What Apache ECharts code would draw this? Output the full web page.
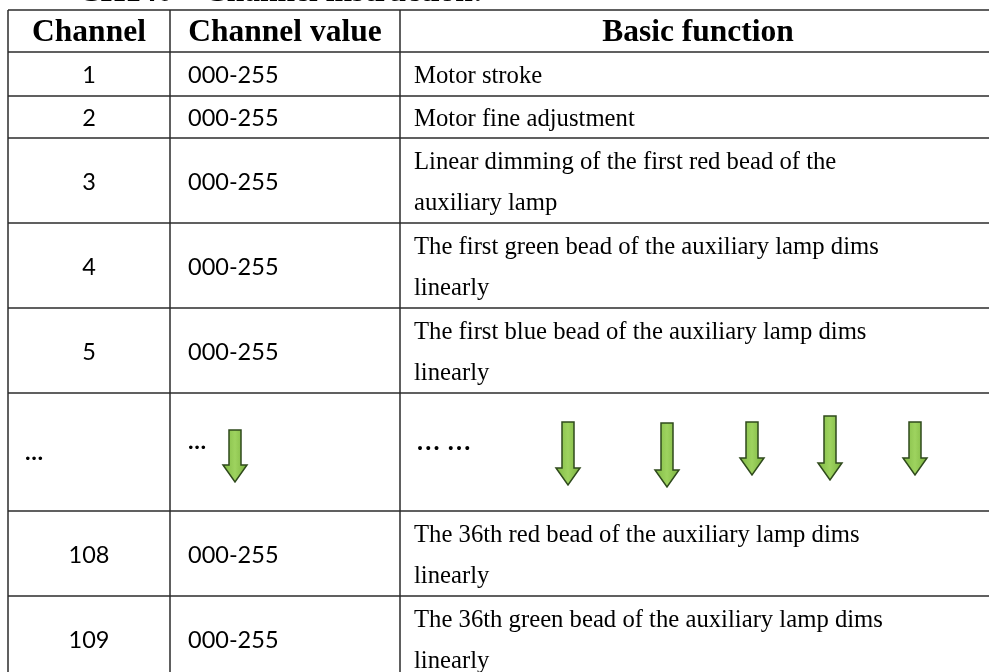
<!DOCTYPE html>
<html>
<head>
<meta charset="utf-8">
<script src="https://cdn.jsdelivr.net/npm/echarts/dist/echarts.min.js"></script>
<style>
  html, body { margin: 0; padding: 0; background: #fff; }
  #main { width: 989px; height: 672px; }
</style>
</head>
<body>
<div id="main"></div>
<script>
// table content
var title = 'CH140 – Channel instruction:';
var headers = ['Channel', 'Channel value', 'Basic function'];
var channels = ['1', '2', '3', '4', '5', '…', '108', '109'];
var channelValues = ['000-255', '000-255', '000-255', '000-255', '000-255', '…', '000-255', '000-255'];
var functions = [
  ['Motor stroke'],
  ['Motor fine adjustment'],
  ['Linear dimming of the first red bead of the', 'auxiliary lamp'],
  ['The first green bead of the auxiliary lamp dims', 'linearly'],
  ['The first blue bead of the auxiliary lamp dims', 'linearly'],
  ['… …'],
  ['The 36th red bead of the auxiliary lamp dims', 'linearly'],
  ['The 36th green bead of the auxiliary lamp dims', 'linearly']
];

// layout (pixels)
var colEdges = [8, 170, 400, 996];
var tableTop = 10;
var rowHeights = [42, 44, 42, 85, 85, 85, 118, 85, 85]; // header first
var dotsRow = 5;
// arrows in the "..." row: [centre x, top, bottom]
var arrows = [
  [235, 430, 482],
  [568, 422, 485],
  [667, 423, 487],
  [752, 422, 475],
  [830, 416, 480],
  [915, 422, 475]
];

var serif = '"Liberation Serif", "Times New Roman", serif';
var sans = 'Lato, "Open Sans", sans-serif';
var lineColor = '#2b2b2b';

var rowTops = [tableTop];
rowHeights.forEach(function (h, i) { rowTops.push(rowTops[i] + h); });

var chart = echarts.init(document.getElementById('main'));

function txt(api, x, y, s, font, align) {
  var p = api.coord([x, y]);
  return {
    type: 'text',
    x: p[0], y: p[1],
    style: { text: s, font: font, fill: '#000', align: align || 'left', verticalAlign: 'middle' }
  };
}

function line(api, x1, y1, x2, y2) {
  var a = api.coord([x1, y1]), b = api.coord([x2, y2]);
  return {
    type: 'line',
    shape: { x1: a[0], y1: a[1], x2: b[0], y2: b[1] },
    style: { stroke: lineColor, lineWidth: 1.5 }
  };
}

function arrow(api, a) {
  var cx = a[0], top = a[1], bottom = a[2];
  var shaft = 6, head = 12, headH = 17;
  var pts = [
    [cx - shaft, top], [cx + shaft, top], [cx + shaft, bottom - headH],
    [cx + head, bottom - headH], [cx, bottom], [cx - head, bottom - headH],
    [cx - shaft, bottom - headH]
  ].map(function (p) { return api.coord(p); });
  return {
    type: 'polygon',
    shape: { points: pts },
    style: {
      fill: new echarts.graphic.LinearGradient(0, 0, 1, 0, [
        { offset: 0, color: '#7fb843' },
        { offset: 0.5, color: '#9ed35f' },
        { offset: 1, color: '#78b03c' }
      ]),
      stroke: '#2f4a1c',
      lineWidth: 1.5
    }
  };
}

function renderRow(params, api) {
  var r = api.value(0); // 0 = header
  var top = rowTops[r], bottom = rowTops[r + 1], mid = (top + bottom) / 2;
  var children = [];
  children.push(line(api, colEdges[0], top, 989, top));
  for (var c = 0; c < 3; c++) {
    children.push(line(api, colEdges[c], top, colEdges[c], bottom));
  }
  if (r === 0) {
    headers.forEach(function (h, c) {
      children.push(txt(api, (colEdges[c] + colEdges[c + 1]) / 2, mid + 2, h, 'bold 31.5px ' + serif, 'center'));
    });
    return { type: 'group', children: children };
  }
  var i = r - 1;
  if (i === dotsRow) {
    children.push(txt(api, 25, mid, channels[i], 'bold 23.5px ' + sans));
    children.push(txt(api, 188, top + 48, channelValues[i], 'bold 23.5px ' + sans));
    children.push(txt(api, 416, top + 51, functions[i][0], 'bold 24.5px ' + serif));
    arrows.forEach(function (a) { children.push(arrow(api, a)); });
  } else {
    children.push(txt(api, (colEdges[0] + colEdges[1]) / 2, mid + 1.5, channels[i], '23.5px ' + sans, 'center'));
    children.push(txt(api, 188, mid + 1.5, channelValues[i], '23.5px ' + sans));
    var lines = functions[i];
    lines.forEach(function (s, k) {
      var y = lines.length === 1 ? mid + 3 : top + 25 + 41 * k;
      children.push(txt(api, 414, y, s, '24.7px ' + serif));
    });
  }
  if (r === rowHeights.length - 1) {
    children.push(line(api, colEdges[0], bottom, 989, bottom));
  }
  return { type: 'group', children: children };
}

var rows = rowHeights.map(function (h, i) { return [i]; });

chart.setOption({
  animation: false,
  backgroundColor: '#fff',
  grid: { left: 0, right: 0, top: 0, bottom: 0 },
  xAxis: { type: 'value', min: 0, max: 989, show: false },
  yAxis: { type: 'value', min: 0, max: 672, inverse: true, show: false },
  graphic: [{
    type: 'text',
    left: 78,
    top: -23,
    style: { text: title, font: 'bold 31.5px ' + serif, fill: '#000' }
  }],
  series: [{
    type: 'custom',
    coordinateSystem: 'cartesian2d',
    clip: false,
    renderItem: renderRow,
    data: rows
  }]
});
</script>
</body>
</html>
